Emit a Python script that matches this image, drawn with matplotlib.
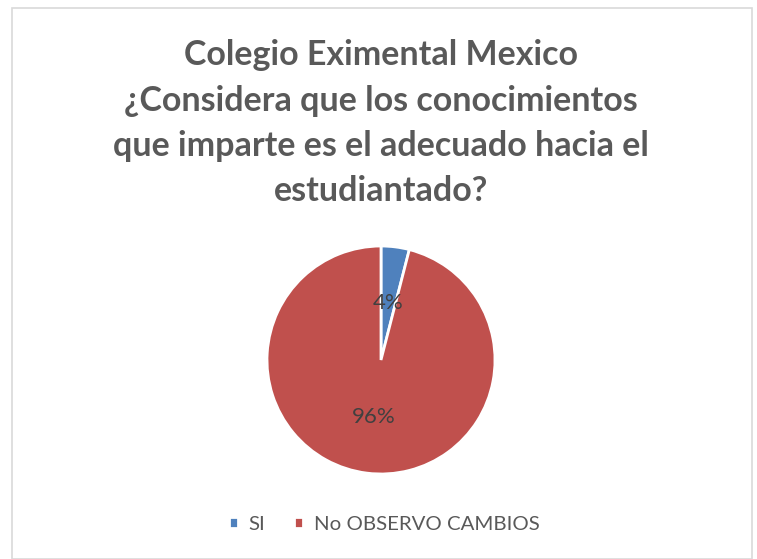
import matplotlib.pyplot as plt
from matplotlib.patches import Rectangle

# Datos
categorias = ['SI', 'No OBSERVO CAMBIOS']
valores = [4, 96]
colores = ['#4F81BD', '#C0504D']
titulo = ['Colegio Eximental Mexico',
          '¿Considera que los conocimientos',
          'que imparte es el adecuado hacia el',
          'estudiantado?']

W, H = 757, 559
fig = plt.figure(figsize=(W / 100, H / 100), dpi=100)
fig.patch.set_facecolor('white')

# marco del grafico
fig.patches.append(Rectangle((12 / W, 0 / H), 740 / W, 551 / H, transform=fig.transFigure,
                             fill=False, edgecolor='#D9D9D9', linewidth=1.2))

# titulo, linea por linea
ys = [55, 101, 146, 191]
for txt, y in zip(titulo, ys):
    fig.text(381 / W, 1 - y / H, txt, ha='center', va='center', fontsize=24.5,
             fontweight='bold', color='#595959', family='Lato')

# pastel
cx, cy, r = 381, 360, 114
ax = fig.add_axes([(cx - r) / W, (H - cy - r) / H, 2 * r / W, 2 * r / H])
wedges, textos, autotextos = ax.pie(valores, colors=colores, startangle=90, counterclock=False,
                                    autopct='%1.0f%%', pctdistance=0.5,
                                    wedgeprops=dict(edgecolor='white', linewidth=2))
for t in autotextos:
    t.set_color('#404040')
    t.set_fontsize(16)
    t.set_family('Lato')
ax.set_xlim(-1, 1)
ax.set_ylim(-1, 1)
ax.set_aspect('equal')
ax.axis('off')

# leyenda
fig.legend(wedges, categorias, loc='center', bbox_to_anchor=(384 / W, 1 - 524 / H), ncol=2,
           frameon=False, handlelength=0.45, handleheight=0.45, columnspacing=1.45, handletextpad=0.5,
           prop={'family': 'Lato', 'size': 14.7}, labelcolor='#595959')

fig.savefig('out.png', dpi=100)
